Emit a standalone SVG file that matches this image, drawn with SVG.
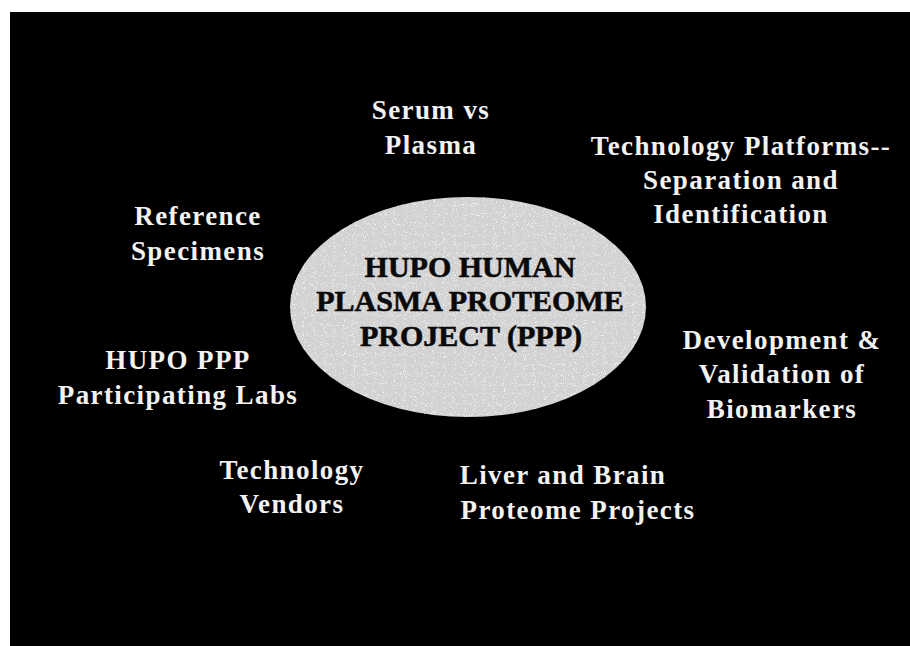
<svg xmlns="http://www.w3.org/2000/svg" width="910" height="646" viewBox="0 0 910 646">
  <style>
    .lbl { font-family: "Liberation Serif", "Times New Roman", serif; font-weight: bold; font-size: 27px; fill: #f2f2f2; letter-spacing: 1.4px; text-anchor: middle; }
    .core { font-family: "Liberation Serif", "Times New Roman", serif; font-weight: bold; font-size: 30px; fill: #0a0a0a; stroke: #0a0a0a; stroke-width: 0.6px; letter-spacing: 0px; text-anchor: middle; }
  </style>
  <defs>
    <filter id="grain" x="0" y="0" width="100%" height="100%">
      <feTurbulence type="fractalNoise" baseFrequency="1.1" numOctaves="1" seed="3" result="noise"/>
      <feColorMatrix in="noise" type="matrix" values="0 0 0 0 1  0 0 0 0 1  0 0 0 0 1  0 0 0 6 -3.6" result="specks"/>
      <feComposite in="specks" in2="SourceGraphic" operator="in" result="clip"/>
      <feMerge><feMergeNode in="SourceGraphic"/><feMergeNode in="clip"/></feMerge>
    </filter>
  </defs>

  <!-- page and dark panel -->
  <rect x="0" y="0" width="910" height="646" fill="#ffffff"/>
  <rect x="10" y="12" width="900" height="634" fill="#000000"/>

  <g id="center-node">
    <ellipse cx="468" cy="307" rx="178" ry="110" fill="#d2d2d2" filter="url(#grain)"/>
    <text class="core" x="470" y="277">HUPO HUMAN</text>
    <text class="core" x="470" y="311">PLASMA PROTEOME</text>
    <text class="core" x="471" y="346">PROJECT (PPP)</text>
  </g>

  <g id="serum-vs-plasma">
    <text class="lbl" x="431" y="119">Serum vs</text>
    <text class="lbl" x="431" y="154">Plasma</text>
  </g>

  <g id="technology-platforms">
    <text class="lbl" x="741" y="155">Technology Platforms--</text>
    <text class="lbl" x="741" y="189">Separation and</text>
    <text class="lbl" x="741" y="223">Identification</text>
  </g>

  <g id="reference-specimens">
    <text class="lbl" x="198" y="225">Reference</text>
    <text class="lbl" x="198" y="260">Specimens</text>
  </g>

  <g id="participating-labs">
    <text class="lbl" x="178" y="369">HUPO PPP</text>
    <text class="lbl" x="178" y="404">Participating Labs</text>
  </g>

  <g id="development-validation">
    <text class="lbl" x="782" y="349">Development &amp;</text>
    <text class="lbl" x="782" y="383">Validation of</text>
    <text class="lbl" x="782" y="418">Biomarkers</text>
  </g>

  <g id="technology-vendors">
    <text class="lbl" x="292" y="479">Technology</text>
    <text class="lbl" x="292" y="513">Vendors</text>
  </g>

  <g id="liver-brain">
    <text class="lbl" x="563" y="484">Liver and Brain</text>
    <text class="lbl" x="578" y="519">Proteome Projects</text>
  </g>
</svg>
